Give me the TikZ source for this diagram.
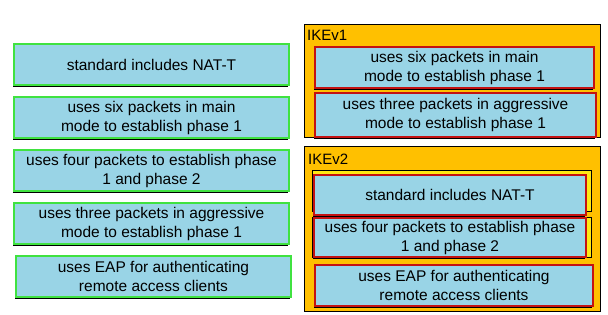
\documentclass[tikz,border=0pt]{standalone}
\usepackage{fontspec}
\setmainfont{Liberation Sans}
\usepackage{tikz}
\usetikzlibrary{positioning,shadows}
\definecolor{cbox}{RGB}{153,212,230}
\definecolor{cgrn}{RGB}{64,226,64}
\definecolor{cred}{RGB}{196,18,18}
\definecolor{cpan}{RGB}{255,192,0}
\definecolor{cslot}{RGB}{255,232,20}

\begin{document}
\begin{tikzpicture}[
  x=1pt,y=-1pt,
  font=\fontsize{15.5}{19}\selectfont,
  box/.style={fill=cbox,align=center,inner sep=0pt,line width=2pt,
    minimum height=41pt,
    drop shadow={shadow xshift=-1.5pt,shadow yshift=-1.5pt,fill=black,opacity=1}},
  lbox/.style={box,draw=cgrn,minimum width=275pt},
  rbox/.style={box,draw=cred,minimum width=279pt,anchor=north west},
  panel/.style={draw,fill=cpan,line width=0.7pt,anchor=north west,
    minimum width=296pt,inner sep=0pt},
  ptitle/.style={anchor=base west,inner sep=0pt,font=\fontsize{15}{18}\selectfont},
  slot/.style={draw,fill=cslot,line width=0.6pt,anchor=north west,
    minimum width=279pt,inner sep=0pt}
]
\useasboundingbox (0,0) rectangle (608,314);
% left column
\node[lbox,anchor=north west] (nat) at (13,43) {standard includes NAT-T};
\node[lbox,below=10pt of nat] (six) {uses six packets in main\\mode to establish phase 1};
\node[lbox,below=10pt of six] (four) {uses four packets to establish phase\\1 and phase 2};
\node[lbox,below=10pt of four] (three) {uses three packets in aggressive\\mode to establish phase 1};
\node[lbox,below=10pt of three,xshift=2pt] (eap) {uses EAP for authenticating\\remote access clients};
% IKEv1
\node[panel,minimum height=113pt] (v1) at (303.5,23.5) {};
\node[ptitle] (v1t) at (307,40) {IKEv1};
\node[rbox] (v1six) at (314,46) {uses six packets in main\\mode to establish phase 1};
\node[rbox,minimum width=281pt,minimum height=44pt] (v1three) at (314,92)
  {uses three packets in aggressive\\mode to establish phase 1};
% IKEv2
\node[panel,minimum height=165pt] (v2) at (303.5,145.5) {};
\node[ptitle] (v2t) at (308,164) {IKEv2};
\node[slot,minimum height=41pt] (s1) at (312,170) {};
\node[slot,minimum height=40pt] (s2) at (312,217) {};
\node[rbox,minimum width=272pt,minimum height=40pt] (v2nat) at (313,174)
  {standard includes NAT-T};
\node[rbox,minimum width=272pt,minimum height=39pt] (v2four) at (313,217)
  {uses four packets to establish phase\\1 and phase 2};
\node[rbox,minimum width=278pt] (v2eap) at (314,264)
  {uses EAP for authenticating\\remote access clients};
\end{tikzpicture}
\end{document}
